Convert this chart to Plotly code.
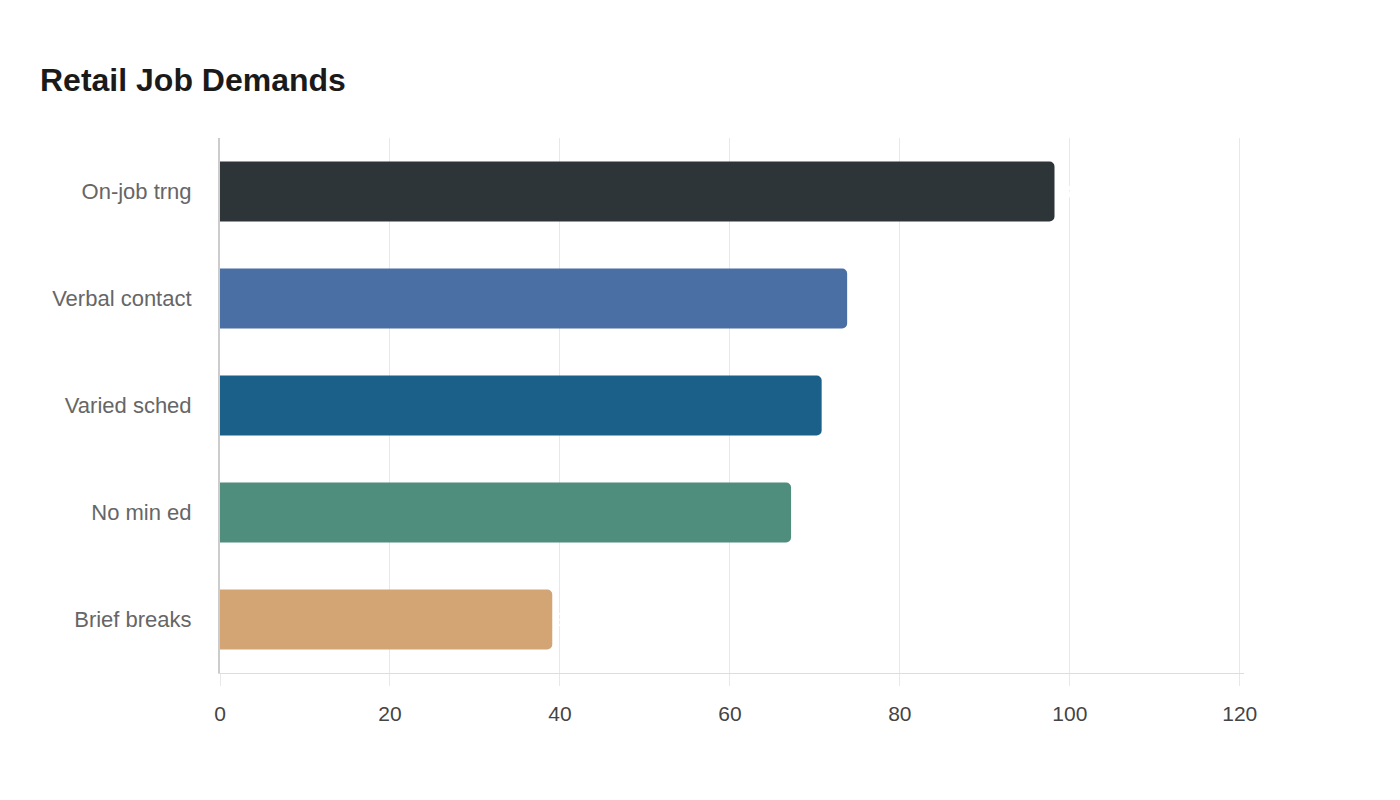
import plotly.graph_objects as go

categories = ["On-job trng", "Verbal contact", "Varied sched", "No min ed", "Brief breaks"]
values = [98.2, 73.8, 70.8, 67.2, 39.1]
colors = ["#2d3538", "#4a6fa5", "#1a6089", "#4f8d7c", "#d4a574"]
tick_vals = [0, 20, 40, 60, 80, 100, 120]

fig = go.Figure(go.Bar(
    y=categories,
    x=values,
    orientation="h",
    marker=dict(color=colors, line=dict(width=0)),
    text=[f"{v:.0f}%" for v in values],
    textposition="outside",
    textfont=dict(color="white", size=18, family="Liberation Sans, Arial, sans-serif"),
    cliponaxis=False,
    hoverinfo="skip",
))

fig.update_layout(
    width=1400, height=800,
    paper_bgcolor="white", plot_bgcolor="white",
    margin=dict(l=220, r=156, t=138, b=127),
    bargap=0.44,
    barcornerradius=5,
    showlegend=False,
    font=dict(family="Liberation Sans, Arial, sans-serif"),
    title=dict(
        text="<b>Retail Job Demands</b>",
        x=40 / 1400, xanchor="left", xref="container",
        y=1 - 80 / 800, yanchor="middle", yref="container",
        font=dict(size=32, color="#1a1a1a"),
    ),
    xaxis=dict(
        range=[0, 120.5],
        tickvals=tick_vals,
        showgrid=True, gridcolor="#e8e8e8", gridwidth=1,
        showline=True, linecolor="#dddddd", linewidth=1,
        ticks="outside", ticklen=12, tickcolor="#e8e8e8",
        ticklabelstandoff=10,
        tickfont=dict(size=21, color="#444444"),
        zeroline=False,
    ),
    yaxis=dict(
        categoryorder="array", categoryarray=categories[::-1],
        showline=True, linecolor="#cccccc", linewidth=2,
        ticks="", ticklabelstandoff=22,
        tickfont=dict(size=22, color="#666666"),
        showgrid=False, zeroline=False,
    ),
)

fig.write_html("out.html")
